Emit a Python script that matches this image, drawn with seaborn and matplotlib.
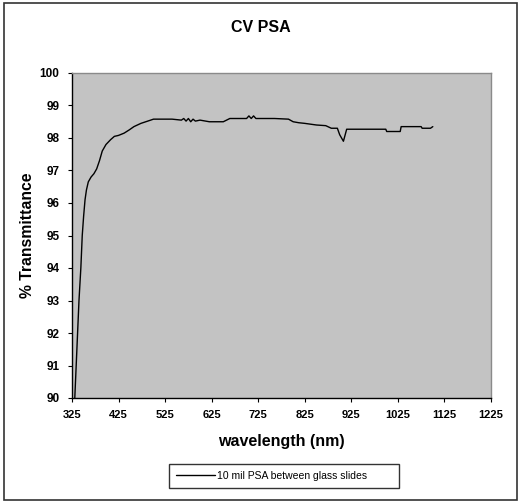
import numpy as np
import pandas as pd
import seaborn as sns
import matplotlib
matplotlib.use("Agg")
import matplotlib.pyplot as plt
from matplotlib.patches import Rectangle
from matplotlib.lines import Line2D

wavelength = [331, 334, 337, 340, 344, 347, 350, 353, 356, 360, 366, 372, 378, 384, 390,
              398, 408, 416, 425, 437, 448, 458, 473, 494, 500, 520, 540, 560, 565,
              570, 575, 580, 585, 590, 600, 620, 640, 650, 664, 680, 700, 705, 710,
              715, 720, 740, 760, 790, 800, 812, 825, 850, 870, 882, 895, 900, 908,
              915, 950, 980, 999, 1001, 1030, 1032, 1045, 1060, 1075, 1077, 1095, 1100]
transmittance = [90.0, 91.0, 92.0, 93.0, 94.0, 95.0, 95.6, 96.1, 96.4, 96.65, 96.8, 96.9, 97.05, 97.3, 97.6,
                 97.8, 97.95, 98.05, 98.08, 98.15, 98.25, 98.35, 98.45, 98.55, 98.58, 98.58, 98.58, 98.55, 98.6,
                 98.52, 98.6, 98.5, 98.58, 98.52, 98.55, 98.5, 98.5, 98.5, 98.6, 98.6, 98.6, 98.68, 98.6,
                 98.68, 98.6, 98.6, 98.6, 98.58, 98.5, 98.47, 98.45, 98.4, 98.38, 98.3, 98.3, 98.1, 97.9,
                 98.27, 98.27, 98.27, 98.27, 98.2, 98.2, 98.35, 98.35, 98.35, 98.35, 98.3, 98.3, 98.35]
xticks = [325, 425, 525, 625, 725, 825, 925, 1025, 1125, 1225]
yticks = [90, 91, 92, 93, 94, 95, 96, 97, 98, 99, 100]
series_name = "10 mil PSA between glass slides"

df = pd.DataFrame({"wavelength": wavelength, "T": transmittance, "series": series_name})

sns.set_style("white")
plt.rcParams["font.family"] = ["Liberation Sans", "DejaVu Sans"]

fig = plt.figure(figsize=(5.22, 5.04), dpi=100)
ax = fig.add_axes([72/522, 1 - 398/504, (491-72)/522, (398-73)/504])
ax.set_facecolor("#c3c3c3")

sns.lineplot(data=df, x="wavelength", y="T", hue="series", palette=["black"],
             linewidth=1.0, ax=ax, legend=False, sort=False)

ax.set_xlim(325, 1225)
ax.set_ylim(90, 100)
ax.set_xticks(xticks)
ax.set_yticks(yticks)
ax.set_xticklabels([str(t) for t in xticks], fontsize=8, fontweight="bold")
ax.set_yticklabels([str(t) for t in yticks], fontsize=8.5, fontweight="bold")
ax.tick_params(axis="x", direction="out", length=3, width=0.8, color="black", pad=6,
               bottom=True, labelcolor="black")
ax.tick_params(axis="y", direction="out", length=3, width=0.8, color="black", pad=6,
               left=True, labelcolor="black")
for s in ["top", "right"]:
    ax.spines[s].set_color("#8a8a8a")
    ax.spines[s].set_linewidth(1.0)
for s in ["left", "bottom"]:
    ax.spines[s].set_color("black")
    ax.spines[s].set_linewidth(1.0)

ax.set_xlabel("wavelength (nm)", fontsize=11.5, fontweight="bold", labelpad=10, color="black")
ax.set_ylabel("% Transmittance", fontsize=11.3, fontweight="bold", labelpad=3, color="black")
fig.text(0.5, 1 - 27/504, "CV PSA", ha="center", va="center", fontsize=11.5,
         fontweight="bold", color="black")

handle = Line2D([0], [0], color="black", linewidth=1.0)
leg = fig.legend([handle], [series_name], loc="center left", mode="expand",
                 bbox_to_anchor=(169/522, 1 - 490/504, 230/522, 28/504), borderaxespad=0,
                 fontsize=7.5, frameon=True, fancybox=False, edgecolor="black", handlelength=3.7,
                 borderpad=0.7, handletextpad=0.2)
leg.get_frame().set_linewidth(1.0)
for t in leg.get_texts():
    t.set_color("black")

fig.patches.append(Rectangle((4/522, 4/504), 513/522, 497/504, transform=fig.transFigure,
                             fill=False, edgecolor="#333333", linewidth=1.2))

fig.savefig("out.png", dpi=100)
